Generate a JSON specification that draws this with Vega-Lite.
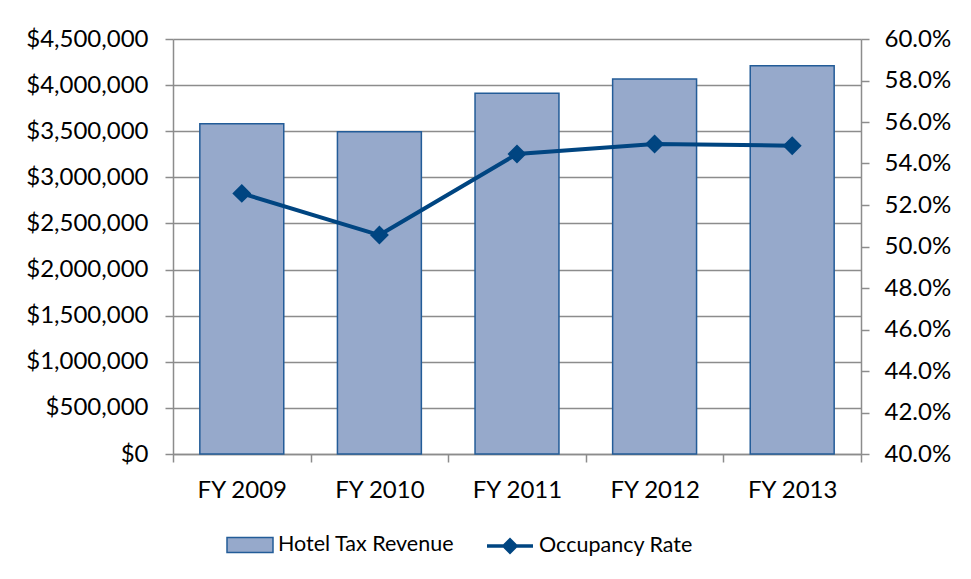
{
  "$schema": "https://vega.github.io/schema/vega-lite/v6.json",
  "width": 688,
  "height": 415,
  "autosize": "none",
  "padding": {"left": 173, "top": 39, "right": 110, "bottom": 125},
  "background": "white",
  "config": {
    "view": {"stroke": null},
    "font": "Lato",
    "axis": {"labelFont": "Lato", "labelFontSize": 24, "labelColor": "#000000", "domainColor": "#8c8c8c", "tickColor": "#8c8c8c", "gridColor": "#8c8c8c", "domainWidth": 1.5, "tickWidth": 1.5, "gridWidth": 1.5, "title": null},
    "legend": {"labelFont": "Lato", "labelFontSize": 21.5, "labelColor": "#000000", "labelLimit": 0, "labelOffset": 4, "padding": 0, "title": null, "symbolSize": 2116, "symbolOpacity": 1}
  },
  "data": {
    "values": [
      {"year": "FY 2009", "revenue": 3581000, "occupancy": 0.5256},
      {"year": "FY 2010", "revenue": 3495000, "occupancy": 0.5055},
      {"year": "FY 2011", "revenue": 3911000, "occupancy": 0.5446},
      {"year": "FY 2012", "revenue": 4066000, "occupancy": 0.5494},
      {"year": "FY 2013", "revenue": 4211000, "occupancy": 0.5486}
    ]
  },
  "encoding": {
    "x": {"field": "year", "type": "nominal", "sort": null, "scale": {"paddingInner": 0, "paddingOuter": 0}}
  },
  "layer": [
    {
      "mark": {"type": "bar", "width": {"band": 0.61}, "stroke": "#235c98", "strokeWidth": 1.5},
      "encoding": {
        "x": {"field": "year", "type": "nominal", "sort": null, "axis": {"orient": "bottom", "labelAngle": 0, "tickBand": "extent", "tickSize": 8, "labelPadding": 16, "grid": false}},
        "y": {"field": "revenue", "type": "quantitative", "scale": {"domain": [0, 4500000], "nice": false, "zero": true}, "axis": {"orient": "left", "values": [0, 500000, 1000000, 1500000, 2000000, 2500000, 3000000, 3500000, 4000000, 4500000], "format": "$,.0f", "grid": true, "tickSize": 8, "labelPadding": 17}},
        "fill": {
          "datum": "Hotel Tax Revenue",
          "scale": {"domain": ["Hotel Tax Revenue"], "range": ["#96a9cb"]},
          "legend": {
            "orient": "none",
            "legendX": 53,
            "legendY": 482,
            "symbolType": "M-1,-0.33H1V0.33H-1Z",
            "symbolStrokeColor": "#235c98",
            "symbolStrokeWidth": 1.5
          }
        }
      }
    },
    {
      "mark": {"type": "line", "strokeWidth": 4, "point": {"shape": "diamond", "size": 260, "filled": true, "fill": "#004581", "opacity": 1}},
      "encoding": {
        "y": {"field": "occupancy", "type": "quantitative", "scale": {"domain": [0.4, 0.6], "nice": false, "zero": false}, "axis": {"orient": "right", "values": [0.4, 0.42, 0.44, 0.46, 0.48, 0.5, 0.52, 0.54, 0.56, 0.58, 0.6], "format": ".1%", "grid": false, "tickSize": 8, "labelPadding": 15}},
        "stroke": {
          "datum": "Occupancy Rate",
          "scale": {"domain": ["Occupancy Rate"], "range": ["#004581"]},
          "legend": {
            "orient": "none",
            "legendX": 312,
            "legendY": 482,
            "symbolType": "M-1,0H1M-0.26,0L0,-0.26L0.26,0L0,0.26Z",
            "symbolFillColor": "#004581",
            "symbolStrokeWidth": 3.5
          }
        }
      }
    }
  ],
  "resolve": {"scale": {"y": "independent"}}
}
